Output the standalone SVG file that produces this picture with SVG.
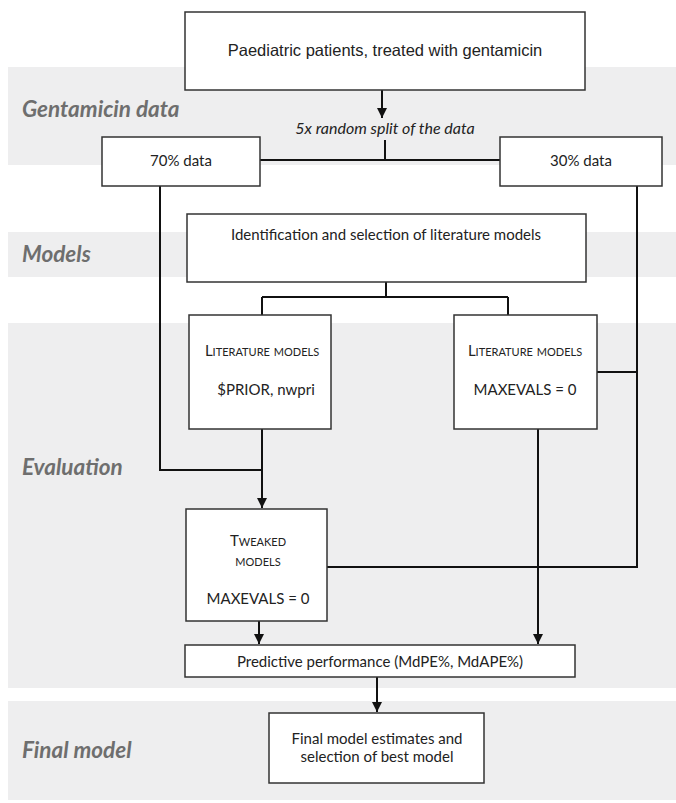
<svg xmlns="http://www.w3.org/2000/svg" width="676" height="803" viewBox="0 0 676 803">
<defs>
<marker id="ah" markerUnits="userSpaceOnUse" markerWidth="10" markerHeight="10" refX="10" refY="5" orient="auto">
<path d="M0,0 L10,5 L0,10 z" fill="#111"/>
</marker>
<style>
.band{fill:#eeeeef;}
.lbl{font-family:Lato,"Open Sans",sans-serif;font-weight:bold;font-style:italic;font-size:22.5px;fill:#6e6e6e;}
.box{fill:#fff;stroke:#333;stroke-width:1.5;}
.t{font-family:Lato,"Liberation Sans",sans-serif;font-size:15px;fill:#222;text-anchor:middle;}
.sc{font-variant:small-caps;}
.ar{font-family:"Liberation Sans",Arial,sans-serif;font-size:16.5px;fill:#222;text-anchor:middle;}
.c{fill:none;stroke:#111;stroke-width:2;}
</style>
</defs>
<rect width="676" height="803" fill="#fff"/>
<g id="bands">
<rect class="band" x="8" y="67" width="668" height="98"/>
<rect class="band" x="8" y="232" width="668" height="45"/>
<rect class="band" x="8" y="323" width="668" height="365"/>
<rect class="band" x="8" y="701" width="668" height="99"/>
<text class="lbl" x="22" y="117">Gentamicin data</text>
<text class="lbl" x="22" y="262">Models</text>
<text class="lbl" x="22" y="475">Evaluation</text>
<text class="lbl" x="22" y="758">Final model</text>
</g>
<g id="connectors">
<path class="c" d="M382,90 V118" marker-end="url(#ah)"/>
<path class="c" d="M385,140 V160 M260,160 H500"/>
<path class="c" d="M160,186 V470 H262"/>
<path class="c" d="M262,429 V508" marker-end="url(#ah)"/>
<path class="c" d="M386,282 V297 M262,297 H508 M262,297 V315 M508,297 V315"/>
<path class="c" d="M637,186 V567 H327 M597,372 H637"/>
<path class="c" d="M538,429 V644" marker-end="url(#ah)"/>
<path class="c" d="M259,621 V644" marker-end="url(#ah)"/>
<path class="c" d="M377,677 V712" marker-end="url(#ah)"/>
<text x="385" y="134" font-family="Lato,'Liberation Sans',sans-serif" font-style="italic" font-size="16" fill="#222" text-anchor="middle">5x random split of the data</text>
</g>
<g id="n-patients">
<rect class="box" x="185" y="12" width="400" height="78"/>
<text class="ar" x="385" y="56">Paediatric patients, treated with gentamicin</text>
</g>
<g id="n-70">
<rect class="box" x="102" y="137" width="158" height="49"/>
<text class="t" x="181" y="166">70% data</text>
</g>
<g id="n-30">
<rect class="box" x="500" y="137" width="162" height="49"/>
<text class="t" x="581" y="166">30% data</text>
</g>
<g id="n-ident">
<rect class="box" x="187" y="214" width="399" height="68"/>
<text class="t" x="386" y="240">Identification and selection of literature models</text>
</g>
<g id="n-lit1">
<rect class="box" x="189" y="315" width="142" height="114"/>
<text class="t sc" x="262" y="356">Literature models</text>
<text class="t" x="266" y="395">$PRIOR, nwpri</text>
</g>
<g id="n-lit2">
<rect class="box" x="454" y="315" width="143" height="114"/>
<text class="t sc" x="525" y="356">Literature models</text>
<text class="t" x="525" y="395">MAXEVALS = 0</text>
</g>
<g id="n-tweaked">
<rect class="box" x="186" y="509" width="141" height="112"/>
<text class="t sc" x="258" y="546">Tweaked</text>
<text class="t sc" x="258" y="566">models</text>
<text class="t" x="258" y="604">MAXEVALS = 0</text>
</g>
<g id="n-perf">
<rect class="box" x="185" y="645" width="390" height="32"/>
<text class="t" x="380" y="667">Predictive performance (MdPE%, MdAPE%)</text>
</g>
<g id="n-final">
<rect class="box" x="269" y="713" width="215" height="70"/>
<text class="t" x="377" y="744">Final model estimates and</text>
<text class="t" x="377" y="762">selection of best model</text>
</g>
</svg>
